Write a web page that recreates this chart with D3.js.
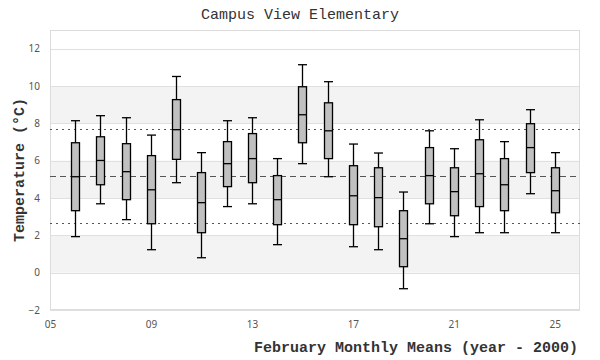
<!DOCTYPE html>
<html>
<head>
<meta charset="utf-8">
<script src="https://cdn.jsdelivr.net/npm/d3@7/dist/d3.min.js"></script>
<style>
  html, body { margin: 0; padding: 0; background: #fff; }
  svg { display: block; }
</style>
</head>
<body>
<svg id="chart" width="600" height="360"></svg>
<script>
// ---- data ----
const years      = [6, 7, 8, 9, 10, 11, 12, 13, 14, 15, 16, 17, 18, 19, 20, 21, 22, 23, 24, 25];
const whiskerLow = [1.93, 3.69, 2.84, 1.23, 4.82, 0.80, 3.54, 3.69, 1.50, 5.84, 5.14, 1.39, 1.23, -0.86, 2.62, 1.93, 2.14, 2.14, 4.23, 2.14];
const q1         = [3.32, 4.71, 3.91, 2.62, 6.07, 2.14, 4.61, 4.82, 2.57, 6.96, 6.11, 2.57, 2.46, 0.32, 3.69, 3.05, 3.54, 3.32, 5.36, 3.21];
const medians    = [5.14, 6.01, 5.41, 4.44, 7.66, 3.75, 5.84, 6.11, 3.91, 8.46, 7.60, 4.12, 4.02, 1.82, 5.20, 4.34, 5.30, 4.71, 6.70, 4.39];
const q3         = [6.96, 7.28, 6.91, 6.27, 9.27, 5.36, 7.02, 7.45, 5.20, 9.96, 9.10, 5.73, 5.62, 3.32, 6.70, 5.62, 7.12, 6.11, 7.98, 5.62];
const whiskerHigh= [8.14, 8.41, 8.30, 7.37, 10.51, 6.43, 8.14, 8.30, 6.11, 11.14, 10.23, 6.89, 6.41, 4.32, 7.60, 6.64, 8.19, 7.02, 8.73, 6.43];
const meanLine   = [5.18];
const sdLines    = [2.64, 7.71];
const xTicks     = [5, 9, 13, 17, 21, 25];
const yTicks     = [-2, 0, 2, 4, 6, 8, 10, 12];
const bandRanges = [[0, 2], [4, 6], [8, 10]];
const titleText  = "Campus View Elementary";
const xLabelText = "February Monthly Means (year - 2000)";
const yLabelText = "Temperature (°C)";

// ---- layout ----
const svg = d3.select("#chart");
const L = 50, R = 580, T = 30, B = 310;
const x = d3.scaleLinear().domain([5, 26]).range([L, R]);
const y = d3.scaleLinear().domain([-2, 13]).range([B, T]);

const mono = "'Liberation Mono', 'DejaVu Sans Mono', monospace";

// bands
svg.append("g").selectAll("rect").data(bandRanges).join("rect")
  .attr("x", L).attr("width", R - L)
  .attr("y", d => y(d[1])).attr("height", d => y(d[0]) - y(d[1]))
  .attr("fill", "#f3f3f3");

// grid
svg.append("g").selectAll("line").data(yTicks).join("line")
  .attr("x1", L).attr("x2", R)
  .attr("y1", d => Math.round(y(d)) + 0.5).attr("y2", d => Math.round(y(d)) + 0.5)
  .attr("stroke", "#e0e0e0").attr("stroke-width", 1);

// border
svg.append("rect").attr("x", L + 0.5).attr("y", T + 0.5)
  .attr("width", R - L - 1).attr("height", B - T - 1)
  .attr("fill", "none").attr("stroke", "#dcdcdc").attr("stroke-width", 1);

// y axis
const yAxis = svg.append("g").attr("transform", `translate(${L},0)`)
  .call(d3.axisLeft(y).tickValues(yTicks).tickSize(0).tickPadding(10).tickFormat(d3.format("d")));
yAxis.select(".domain").remove();
yAxis.selectAll("text").attr("font-family", "'Noto Sans', sans-serif").attr("font-size", 10).attr("fill", "#555");

// x axis
const xAxis = svg.append("g").attr("transform", `translate(0,${B})`)
  .call(d3.axisBottom(x).tickValues(xTicks).tickSize(0).tickPadding(11).tickFormat(d3.format("02d")));
xAxis.select(".domain").remove();
xAxis.selectAll("text").attr("font-family", "'Noto Sans', sans-serif").attr("font-size", 10).attr("fill", "#555");

// reference lines
svg.append("g").selectAll("line").data(sdLines).join("line")
  .attr("x1", L).attr("x2", R)
  .attr("y1", d => Math.round(y(d)) + 0.5).attr("y2", d => Math.round(y(d)) + 0.5)
  .attr("stroke", "#555").attr("stroke-width", 1).attr("stroke-dasharray", "2,4");
svg.append("g").selectAll("line").data(meanLine).join("line")
  .attr("x1", L).attr("x2", R)
  .attr("y1", d => Math.round(y(d)) + 0.5).attr("y2", d => Math.round(y(d)) + 0.5)
  .attr("stroke", "#555").attr("stroke-width", 1).attr("stroke-dasharray", "6,4");

// boxes
const data = years.map((yr, i) => ({yr, lo: whiskerLow[i], q1: q1[i], med: medians[i], q3: q3[i], hi: whiskerHigh[i]}));
const bw = 8, cw = 9;
const g = svg.append("g").selectAll("g").data(data).join("g")
  .attr("transform", d => `translate(${Math.round(x(d.yr)) + 0.5},0)`);
g.append("line").attr("x1", 0).attr("x2", 0)
  .attr("y1", d => y(d.lo)).attr("y2", d => y(d.hi))
  .attr("stroke", "#000").attr("stroke-width", 1.3);
g.append("line").attr("x1", -cw / 2).attr("x2", cw / 2)
  .attr("y1", d => y(d.lo)).attr("y2", d => y(d.lo))
  .attr("stroke", "#000").attr("stroke-width", 1.3);
g.append("line").attr("x1", -cw / 2).attr("x2", cw / 2)
  .attr("y1", d => y(d.hi)).attr("y2", d => y(d.hi))
  .attr("stroke", "#000").attr("stroke-width", 1.3);
g.append("rect").attr("x", -bw / 2).attr("width", bw)
  .attr("y", d => y(d.q3)).attr("height", d => y(d.q1) - y(d.q3))
  .attr("fill", "#c0c0c0").attr("stroke", "#000").attr("stroke-width", 1.3);
g.append("line").attr("x1", -bw / 2).attr("x2", bw / 2)
  .attr("y1", d => y(d.med)).attr("y2", d => y(d.med))
  .attr("stroke", "#000").attr("stroke-width", 1.3);

// titles
svg.append("text").attr("x", 300).attr("y", 19).attr("text-anchor", "middle")
  .attr("font-family", mono).attr("font-size", 15).attr("fill", "#333").text(titleText);
svg.append("text").attr("x", 578).attr("y", 352).attr("text-anchor", "end")
  .attr("font-family", mono).attr("font-size", 15).attr("font-weight", "bold").attr("fill", "#333").text(xLabelText);
svg.append("text").attr("transform", `translate(24,${(T + B) / 2}) rotate(-90)`).attr("text-anchor", "middle")
  .attr("font-family", mono).attr("font-size", 15).attr("font-weight", "bold").attr("fill", "#333").text(yLabelText);
</script>
</body>
</html>
